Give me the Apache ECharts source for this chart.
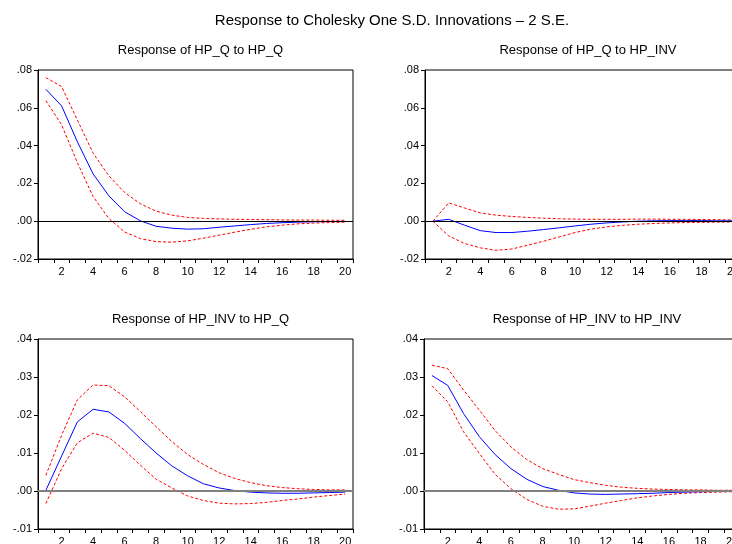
<!DOCTYPE html>
<html>
<head>
<meta charset="utf-8">
<script src="https://cdn.jsdelivr.net/npm/echarts@6/dist/echarts.min.js"></script>
<style>
  html, body { margin: 0; padding: 0; background: #fff; }
  #chart { width: 732px; height: 544px; }
</style>
</head>
<body>
<div id="chart"></div>
<script>
// periods 1..20
const periods = Array.from({ length: 20 }, (_, i) => String(i + 1))

// Response of HP_Q to HP_Q
const qq = [0.0698, 0.061, 0.042, 0.025, 0.0134, 0.005, 0.0002, -0.0027, -0.0037, -0.0042,
  -0.004, -0.0032, -0.0025, -0.0018, -0.0012, -0.0008, -0.0005, -0.0003, -0.0002, -0.0001]
const qqHi = [0.076, 0.0712, 0.0535, 0.036, 0.024, 0.0152, 0.0092, 0.0053, 0.0032, 0.002,
  0.0015, 0.0012, 0.001, 0.0009, 0.0008, 0.0007, 0.0006, 0.0006, 0.0005, 0.0005]
const qqLo = [0.0638, 0.051, 0.031, 0.013, 0.0014, -0.0057, -0.0092, -0.0108, -0.0111, -0.0104,
  -0.009, -0.0074, -0.0058, -0.0043, -0.003, -0.0021, -0.0014, -0.001, -0.0007, -0.0005]

// Response of HP_Q to HP_INV
const qi = [0, 0.001, -0.0021, -0.005, -0.006, -0.006, -0.0053, -0.0044, -0.0035, -0.0025,
  -0.0016, -0.0009, -0.0004, 0, 0.0002, 0.0003, 0.0003, 0.0003, 0.0002, 0.0002]
const qiHi = [0, 0.0097, 0.007, 0.0044, 0.0032, 0.0025, 0.002, 0.0016, 0.0013, 0.0011,
  0.001, 0.001, 0.001, 0.0011, 0.0011, 0.001, 0.001, 0.0009, 0.0008, 0.0007]
const qiLo = [0, -0.0078, -0.0118, -0.0141, -0.0154, -0.0147, -0.0127, -0.0106, -0.0083, -0.006,
  -0.0042, -0.003, -0.0022, -0.0016, -0.0012, -0.0009, -0.0007, -0.0006, -0.0005, -0.0004]

// Response of HP_INV to HP_Q
const iq = [0.0002, 0.0092, 0.0182, 0.0215, 0.0208, 0.0178, 0.0138, 0.01, 0.0066, 0.004,
  0.0019, 0.0008, 0.0001, -0.0003, -0.0005, -0.0006, -0.0006, -0.0005, -0.0004, -0.0003]
const iqHi = [0.0041, 0.0147, 0.024, 0.0279, 0.0277, 0.0248, 0.0209, 0.0169, 0.013, 0.0096,
  0.007, 0.0048, 0.0033, 0.0022, 0.0014, 0.0009, 0.0006, 0.0004, 0.0003, 0.0003]
const iqLo = [-0.0033, 0.0059, 0.0127, 0.0152, 0.0141, 0.0107, 0.0068, 0.0031, 0.0008, -0.0013,
  -0.0025, -0.0032, -0.0034, -0.0033, -0.003, -0.0025, -0.0021, -0.0016, -0.0012, -0.0008]

// Response of HP_INV to HP_INV
const ii = [0.0304, 0.0278, 0.0204, 0.0143, 0.0096, 0.0059, 0.0031, 0.0012, 0.0002, -0.0005,
  -0.0008, -0.0009, -0.0008, -0.0007, -0.0006, -0.0004, -0.0003, -0.0002, -0.0001, -0.0001]
const iiHi = [0.0331, 0.0322, 0.0266, 0.0213, 0.0159, 0.0116, 0.0083, 0.0059, 0.0044, 0.003,
  0.0022, 0.0015, 0.001, 0.0007, 0.0005, 0.0004, 0.0003, 0.0003, 0.0002, 0.0002]
const iiLo = [0.0277, 0.0235, 0.0156, 0.0099, 0.0044, 0.0006, -0.0022, -0.004, -0.0048, -0.0047,
  -0.004, -0.0032, -0.0025, -0.0018, -0.0013, -0.0009, -0.0006, -0.0004, -0.0003, -0.0002]

const panels = [
  { title: 'Response of HP_Q to HP_Q', mid: qq, hi: qqHi, lo: qqLo, min: -0.02, max: 0.08, step: 0.02,
    grid: { left: 38, top: 70, width: 315, height: 189 }, zero: { color: '#000', width: 1 } },
  { title: 'Response of HP_Q to HP_INV', mid: qi, hi: qiHi, lo: qiLo, min: -0.02, max: 0.08, step: 0.02,
    grid: { left: 425, top: 70, width: 316, height: 189 }, zero: { color: '#000', width: 1 } },
  { title: 'Response of HP_INV to HP_Q', mid: iq, hi: iqHi, lo: iqLo, min: -0.01, max: 0.04, step: 0.01,
    grid: { left: 38, top: 339, width: 315, height: 190 }, zero: { color: '#808080', width: 2 } },
  { title: 'Response of HP_INV to HP_INV', mid: ii, hi: iiHi, lo: iiLo, min: -0.01, max: 0.04, step: 0.01,
    grid: { left: 424, top: 339, width: 316, height: 190 }, zero: { color: '#808080', width: 2 } },
]

const fontFamily = 'Liberation Sans, Arial, sans-serif'

// ".08", "-.02" style labels
const fmt = (v) => {
  const s = Math.abs(v).toFixed(2).replace(/^0/, '')
  return (v < -1e-9 ? '-' : '') + s
}

const titles = [{
  text: 'Response to Cholesky One S.D. Innovations \u2013 2 S.E.',
  left: 387, top: 8, textAlign: 'center',
  textStyle: { fontSize: 15, fontWeight: 'normal', color: '#000', fontFamily },
}]
panels.forEach((p) => {
  titles.push({
    text: p.title,
    left: p.grid.left + p.grid.width / 2,
    top: p.grid.top - 31,
    textAlign: 'center',
    textStyle: { fontSize: 13, fontWeight: 'normal', color: '#000', fontFamily },
  })
})

const series = []
panels.forEach((p, k) => {
  const red = { color: '#ff0000', width: 1, type: [3, 2] }
  series.push({
    type: 'line', xAxisIndex: k, yAxisIndex: k, data: p.hi, symbol: 'none',
    lineStyle: red, itemStyle: { color: '#ff0000' }, silent: true,
  })
  series.push({
    type: 'line', xAxisIndex: k, yAxisIndex: k, data: p.lo, symbol: 'none',
    lineStyle: red, itemStyle: { color: '#ff0000' }, silent: true,
  })
  series.push({
    type: 'line', xAxisIndex: k, yAxisIndex: k, data: p.mid, symbol: 'none',
    lineStyle: { color: '#0000ff', width: 1 }, itemStyle: { color: '#0000ff' }, silent: true,
    markLine: {
      silent: true, symbol: 'none', label: { show: false },
      lineStyle: { color: p.zero.color, width: p.zero.width, type: 'solid' },
      data: [{ yAxis: 0 }],
    },
  })
})

const chart = echarts.init(document.getElementById('chart'))
chart.setOption({
  animation: false,
  backgroundColor: '#fff',
  title: titles,
  grid: panels.map((p) => ({
    ...p.grid, show: true, borderColor: '#000', borderWidth: 1,
    backgroundColor: 'transparent', outerBoundsMode: 'none', containLabel: false,
  })),
  xAxis: panels.map((p, k) => ({
    type: 'category', gridIndex: k, data: periods, boundaryGap: true,
    axisLine: { onZero: false, lineStyle: { color: '#000', width: 1 } },
    axisTick: { show: true, interval: 0, length: 4, lineStyle: { color: '#000' } },
    axisLabel: {
      interval: (i) => i % 2 === 1, color: '#000', fontSize: 11, fontFamily, margin: 7,
    },
    splitLine: { show: false },
  })),
  yAxis: panels.map((p, k) => ({
    type: 'value', gridIndex: k, min: p.min, max: p.max, interval: p.step,
    axisLine: { show: true, lineStyle: { color: '#000', width: 1 } },
    axisTick: { show: true, length: 4, lineStyle: { color: '#000' } },
    axisLabel: { formatter: fmt, color: '#000', fontSize: 11, fontFamily, margin: 6 },
    splitLine: { show: false },
  })),
  series,
})
</script>
</body>
</html>
